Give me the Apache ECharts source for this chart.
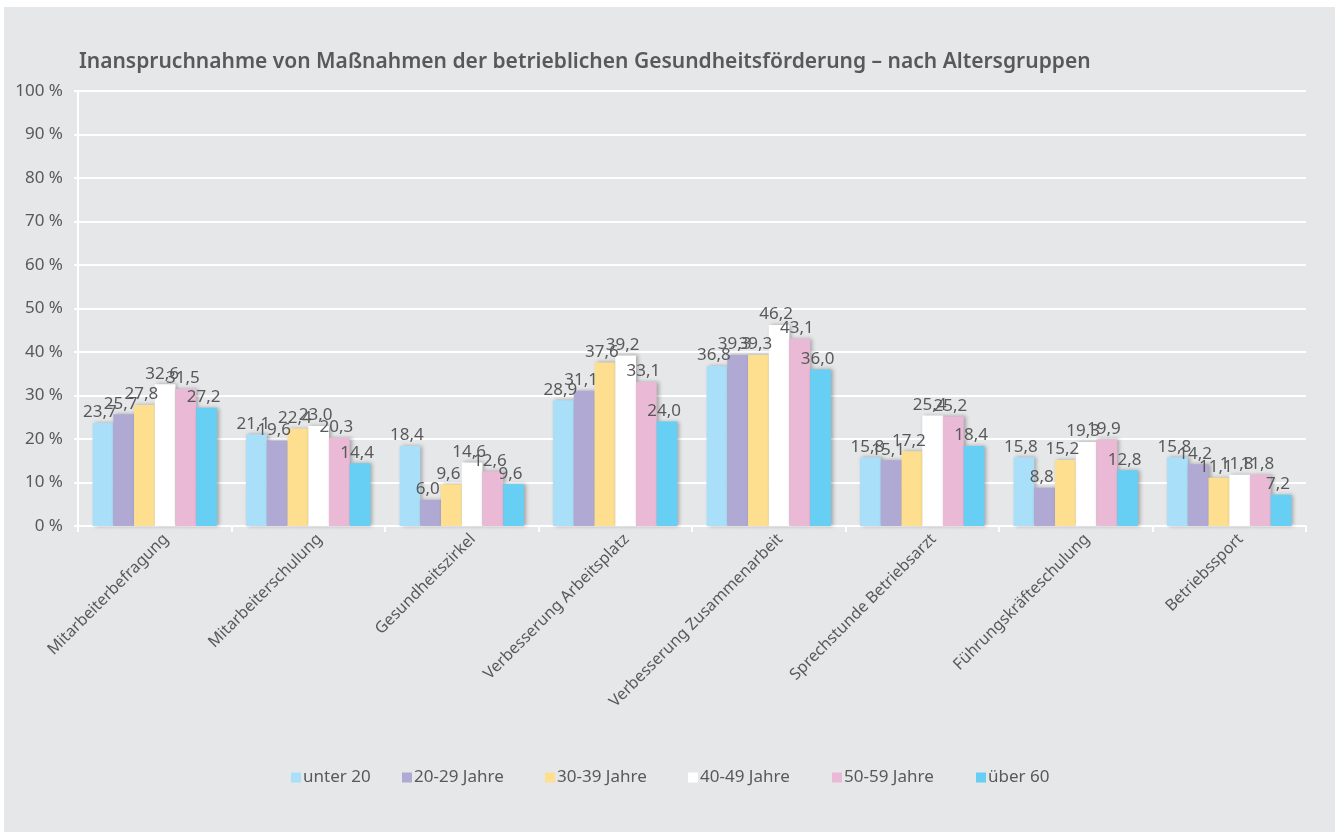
<!DOCTYPE html>
<html>
<head>
<meta charset="utf-8">
<script src="https://cdn.jsdelivr.net/npm/echarts@6/dist/echarts.min.js"></script>
<style>
html,body{margin:0;padding:0;background:#ffffff;}
#wrap{position:absolute;left:4px;top:7px;width:1331px;height:825px;background:#e6e7e9;}
#chart{position:absolute;left:0;top:0;width:1341px;height:832px;}
</style>
</head>
<body>
<div id="wrap"></div>
<div id="chart"></div>
<script>
const titleText = 'Inanspruchnahme von Maßnahmen der betrieblichen Gesundheitsförderung – nach Altersgruppen';
const categories = ['Mitarbeiterbefragung','Mitarbeiterschulung','Gesundheitszirkel','Verbesserung Arbeitsplatz','Verbesserung Zusammenarbeit','Sprechstunde Betriebsarzt','Führungskräfteschulung','Betriebssport'];
const seriesNames = ['unter 20','20-29 Jahre','30-39 Jahre','40-49 Jahre','50-59 Jahre','über 60'];
const unter20 = [23.7, 21.1, 18.4, 28.9, 36.8, 15.8, 15.8, 15.8];
const j20_29  = [25.7, 19.6, 6.0, 31.1, 39.3, 15.1, 8.8, 14.2];
const j30_39  = [27.8, 22.4, 9.6, 37.6, 39.3, 17.2, 15.2, 11.1];
const j40_49  = [32.6, 23.0, 14.6, 39.2, 46.2, 25.4, 19.3, 11.8];
const j50_59  = [31.5, 20.3, 12.6, 33.1, 43.1, 25.2, 19.9, 11.8];
const ueber60 = [27.2, 14.4, 9.6, 24.0, 36.0, 18.4, 12.8, 7.2];
const seriesData = [unter20, j20_29, j30_39, j40_49, j50_59, ueber60];
const colors = ['#a9dff8','#b0a9d3','#fddf8f','#ffffff','#e9b9d6','#66cff3'];
const yTicks = [0,10,20,30,40,50,60,70,80,90,100];
const legendLeft = [286, 397, 540, 683, 827, 971];

const font = 'Noto Sans';
const txt = '#595959';
const chart = echarts.init(document.getElementById('chart'));
chart.setOption({
  animation:false,
  title:{text:titleText,left:74,top:47,textStyle:{fontFamily:font,fontSize:21,fontWeight:600,color:txt}},
  grid:{left:78,right:35,top:91,bottom:306,containLabel:false},
  legend: seriesNames.map((n,i)=>({
    top:764,left:legendLeft[i],itemWidth:10,itemHeight:10,itemGap:0,icon:'rect',
    textStyle:{fontFamily:font,fontSize:17,color:txt,padding:[0,0,0,-3]},
    data:[n]})),
  xAxis:{type:'category',data:categories,
    axisLine:{show:true,lineStyle:{color:'#ffffff',width:2}},
    axisTick:{show:true,length:6,lineStyle:{color:'#ffffff',width:2}},
    axisLabel:{rotate:45,fontFamily:font,fontSize:16,color:txt,margin:22,interval:0,padding:[0,-16,0,0]}},
  yAxis:{type:'value',min:0,max:100,interval:10,
    axisLine:{show:true,lineStyle:{color:'#ffffff',width:2}},
    axisTick:{show:true,length:4,lineStyle:{color:'#ffffff',width:2}},
    splitLine:{show:true,lineStyle:{color:'#ffffff',width:2}},
    axisLabel:{fontFamily:font,fontSize:17,color:txt,margin:15,formatter:v=>yTicks.includes(v)?v+' %':''}},
  series: seriesNames.map((n,i)=>({
    name:n,type:'bar',data:seriesData[i],
    barGap:'0%',barCategoryGap:'19%',
    itemStyle:{color:colors[i],shadowColor:'rgba(0,0,0,0.3)',shadowBlur:4,shadowOffsetX:2,shadowOffsetY:0},
    label:{show:true,position:'top',distance:2,offset:[-3,0],fontFamily:font,fontSize:17,color:txt,
      formatter:p=>p.value.toFixed(1).replace('.',',')}
  }))
});
</script>
</body>
</html>
